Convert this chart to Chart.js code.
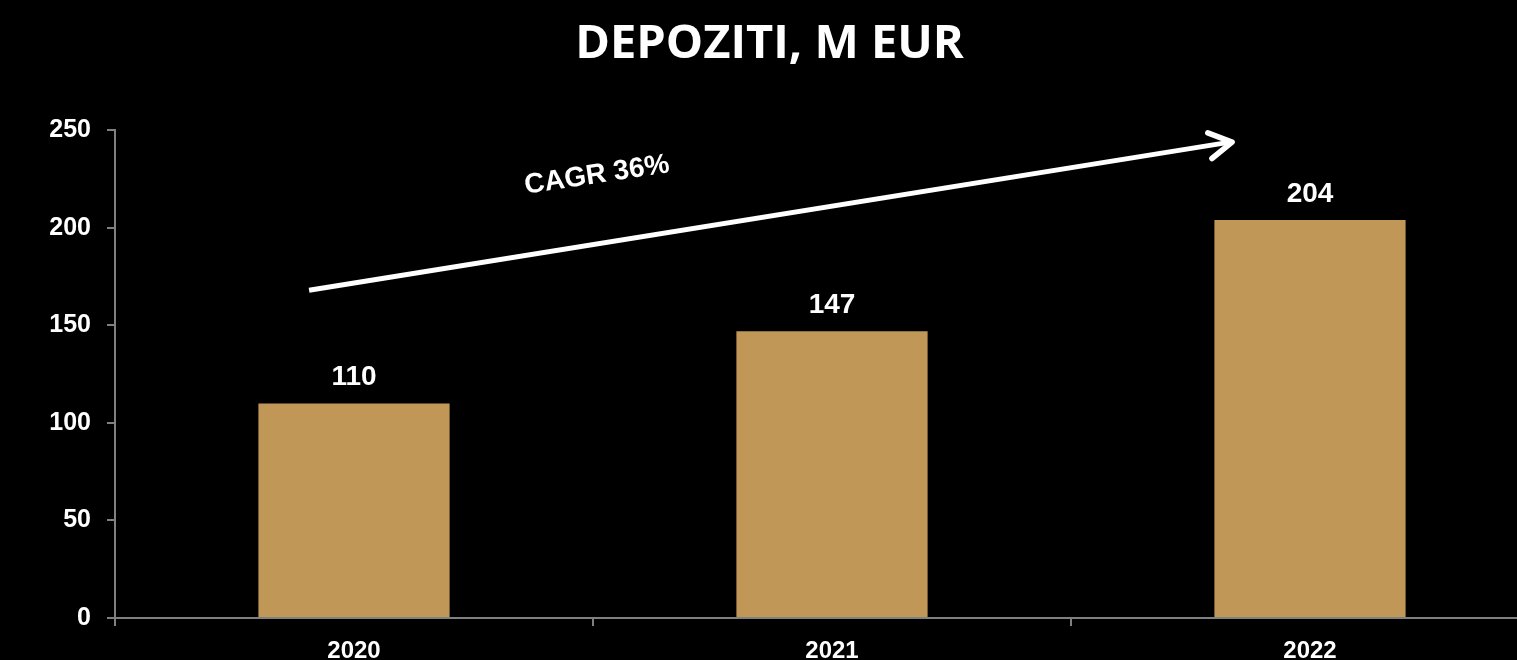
<!DOCTYPE html>
<html>
<head>
<meta charset="utf-8">
<script src="https://cdn.jsdelivr.net/npm/chart.js@4.4.1/dist/chart.umd.min.js"></script>
<style>
  html, body { margin: 0; padding: 0; background: #000; overflow: hidden; width: 1517px; height: 660px; }
  #wrap { position: absolute; left: -10px; top: 0; width: 1570px; height: 660px; }
</style>
</head>
<body>
<div id="wrap"><canvas id="c" width="1570" height="660"></canvas></div>
<script>
// ---- data ----
const categories = ['2020', '2021', '2022'];
const deposits = [110, 147, 204];
const yTicks = [0, 50, 100, 150, 200, 250];
const titleText = 'DEPOZITI, M EUR';
const cagrText = 'CAGR 36%';

const barColor = '#c09757';
const axisColor = '#808080';

// annotation in data units (category index, value)
const annotation = {
  arrowFrom: [-0.094, 168],
  arrowTo: [1.837, 244],
  textAt: [0.508, 227],
  textAngleDeg: -8.5
};

const valueLabels = {
  id: 'valueLabels',
  afterDatasetsDraw(chart) {
    const ctx = chart.ctx;
    const meta = chart.getDatasetMeta(0);
    ctx.save();
    ctx.fillStyle = '#ffffff';
    ctx.font = 'bold 28px "Liberation Sans", Arial, sans-serif';
    ctx.textAlign = 'center';
    ctx.textBaseline = 'alphabetic';
    meta.data.forEach((el, i) => {
      ctx.fillText(String(deposits[i]), el.x, el.y - 18);
    });
    ctx.restore();
  }
};

const cagrArrow = {
  id: 'cagrArrow',
  afterDraw(chart) {
    const ctx = chart.ctx;
    const xs = chart.scales.x, ys = chart.scales.y;
    const x1 = xs.getPixelForValue(annotation.arrowFrom[0]);
    const y1 = ys.getPixelForValue(annotation.arrowFrom[1]);
    const x2 = xs.getPixelForValue(annotation.arrowTo[0]);
    const y2 = ys.getPixelForValue(annotation.arrowTo[1]);
    ctx.save();
    ctx.strokeStyle = '#ffffff';
    ctx.lineWidth = 5;
    ctx.lineCap = 'butt';
    ctx.beginPath();
    ctx.moveTo(x1, y1);
    ctx.lineTo(x2 - 2, y2);
    ctx.stroke();
    const ang = Math.atan2(y2 - y1, x2 - x1);
    const len = 26, spread = Math.PI / 6;
    ctx.lineCap = 'round';
    ctx.lineJoin = 'round';
    ctx.lineWidth = 5.5;
    ctx.beginPath();
    ctx.moveTo(x2 - len * Math.cos(ang - spread), y2 - len * Math.sin(ang - spread));
    ctx.lineTo(x2, y2);
    ctx.lineTo(x2 - len * Math.cos(ang + spread), y2 - len * Math.sin(ang + spread));
    ctx.stroke();
    // label
    const tx = xs.getPixelForValue(annotation.textAt[0]);
    const ty = ys.getPixelForValue(annotation.textAt[1]);
    ctx.translate(tx, ty);
    ctx.rotate(annotation.textAngleDeg * Math.PI / 180);
    ctx.fillStyle = '#ffffff';
    ctx.font = 'bold 28px "Liberation Sans", Arial, sans-serif';
    ctx.textAlign = 'center';
    ctx.textBaseline = 'middle';
    ctx.fillText(cagrText, 0, 0);
    ctx.restore();
  }
};

new Chart(document.getElementById('c'), {
  type: 'bar',
  data: {
    labels: categories,
    datasets: [{
      data: deposits,
      backgroundColor: barColor,
      borderWidth: 0,
      barPercentage: 0.4,
      categoryPercentage: 1.0
    }]
  },
  options: {
    responsive: false,
    animation: false,
    devicePixelRatio: 1,
    layout: { padding: { left: 0, right: 11, top: 0, bottom: 0 } },
    plugins: {
      legend: { display: false },
      tooltip: { enabled: false },
      title: {
        display: true,
        text: titleText,
        color: '#ffffff',
        font: { family: '"Open Sans", sans-serif', size: 47, weight: 'bold', lineHeight: 1.2 },
        padding: { top: 16, bottom: 58 }
      }
    },
    scales: {
      x: {
        grid: { display: true, drawOnChartArea: false, drawTicks: true, tickLength: 8, color: axisColor, lineWidth: 2, offset: true },
        border: { display: true, color: axisColor, width: 2 },
        ticks: { color: '#ffffff', font: { family: '"Liberation Sans", Arial, sans-serif', size: 24, weight: 'bold' }, padding: 11 },
        afterFit(scale) { scale.height = 42; }
      },
      y: {
        min: 0,
        max: 250,
        afterBuildTicks(scale) { scale.ticks = yTicks.map(v => ({ value: v })); },
        grid: { display: true, drawOnChartArea: false, drawTicks: true, tickLength: 8, color: axisColor, lineWidth: 2 },
        border: { display: true, color: axisColor, width: 2 },
        ticks: { color: '#ffffff', font: { family: '"Liberation Sans", Arial, sans-serif', size: 25, weight: 'bold' }, padding: 16 },
        afterFit(scale) { scale.width = 125; }
      }
    }
  },
  plugins: [valueLabels, cagrArrow]
});
</script>
</body>
</html>
